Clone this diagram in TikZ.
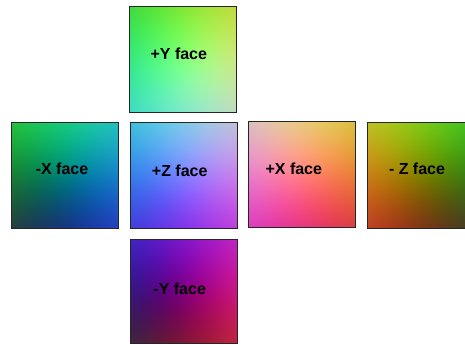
\documentclass[tikz,border=0pt]{standalone}
\usepackage{fontspec}
\setmainfont{Liberation Sans}
% direction-colour cube faces: colour = 0.5 + 0.5 * normalize(d)
% pgf fits the path's box inside the 50bp circle, so corners sit at 50/sqrt(2)
\newcommand\mkface[4]{%
  \pgfdeclarefunctionalshading{#1}{\pgfpoint{-50bp}{-50bp}}{\pgfpoint{50bp}{50bp}}{}{%
    35.3553 div exch 35.3553 div exch
    2 copy dup mul exch dup mul add 1 add sqrt 1 exch div
    3 1 roll 2 index mul exch 2 index mul exch 3 -1 roll
    #2 0.5 mul 0.5 add
    #3 0.5 mul 0.5 add
    #4 0.5 mul 0.5 add
    6 3 roll pop pop pop}}
\mkface{facePY}{2 index}{1 index}{3 index neg}
\mkface{facePZ}{2 index}{2 index}{2 index}
\mkface{facePX}{0 index}{2 index}{4 index neg}
\mkface{faceNX}{0 index neg}{2 index}{4 index}
\mkface{faceNZ}{2 index neg}{2 index}{2 index neg}
\mkface{faceNY}{2 index}{1 index neg}{3 index}
\tikzset{
  face/.style={draw=black!85, line width=1bp, inner sep=0pt, outer sep=0pt,
    minimum width=106bp, minimum height=106bp},
  facelabel/.style={anchor=base, inner sep=0pt,
    font=\fontsize{16bp}{19bp}\selectfont\bfseries, text=black}
}
\begin{document}
\begin{tikzpicture}[x=1bp,y=1bp]
\useasboundingbox (0,0) rectangle (465,344);
\clip (0,0) rectangle (465,344);
\node[face, shading=facePY, minimum width=107bp] (py) at (183,284.5) {};
\node[face, shading=faceNX] (nx) at (65,169) {};
\node[face, shading=facePZ, minimum width=107bp] (pz) at (183.5,169) {};
\node[face, shading=facePX, minimum width=106.5bp] (px) at (301.75,170) {};
\node[face, shading=faceNZ] (nz) at (420,169) {};
\node[face, shading=faceNY, minimum width=107bp, minimum height=104bp] (ny) at (183.5,53) {};
\node[facelabel] (lpy) at (178.8,284.7) {+Y face};
\node[facelabel] (lnx) at (62,170) {-X face};
\node[facelabel] (lpz) at (179.7,167.3) {+Z face};
\node[facelabel] (lpx) at (293.8,170) {+X face};
\node[facelabel] (lnz) at (417,169.7) {- Z face};
\node[facelabel] (lny) at (179.7,49.3) {-Y face};
\end{tikzpicture}
\end{document}
